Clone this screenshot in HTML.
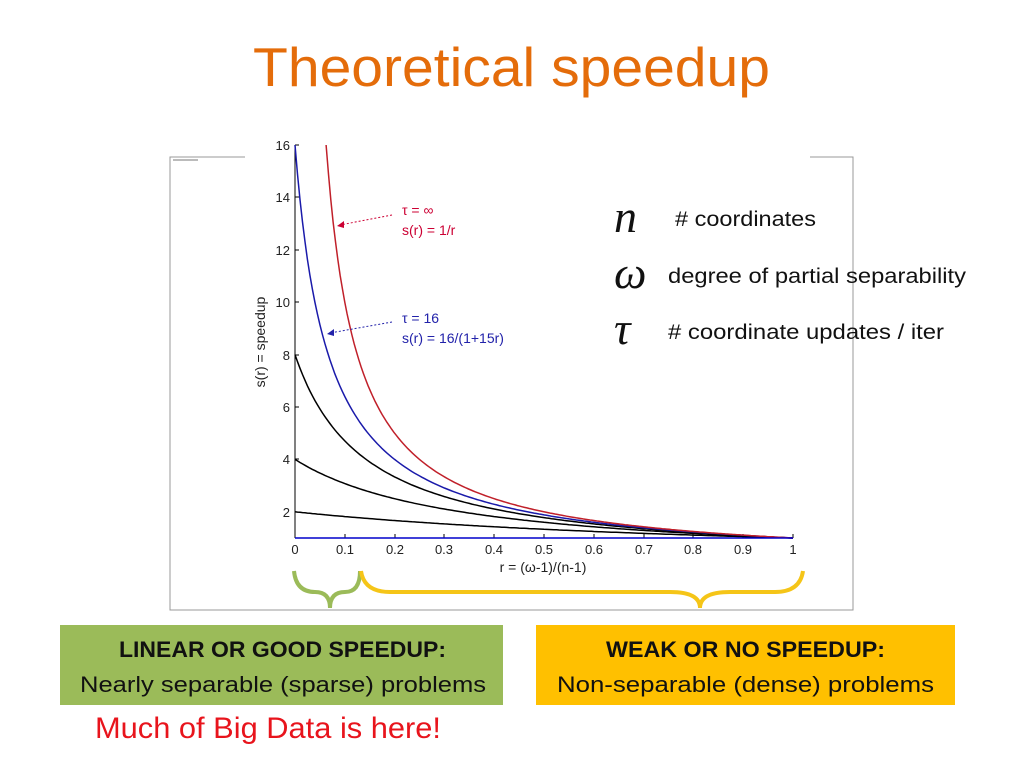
<!DOCTYPE html>
<html><head><meta charset="utf-8"><style>
body{margin:0;background:#fff;}
svg{display:block;}
</style></head><body>
<svg width="1024" height="768" viewBox="0 0 1024 768" xmlns="http://www.w3.org/2000/svg">
<text x="253" y="86" textLength="517" lengthAdjust="spacingAndGlyphs" font-family="Liberation Sans, sans-serif" font-size="55" fill="#E46C0A">Theoretical speedup</text>
<!-- frame -->
<path d="M245 157 H170 V610 H853 V157 H810" fill="none" stroke="#999" stroke-width="1"/>
<rect x="173" y="159" width="25" height="2" fill="#bbb"/>
<!-- axes -->
<g font-family="Liberation Sans, sans-serif" font-size="13" fill="#222">
<line x1="295" y1="145" x2="295" y2="538" stroke="#000" stroke-width="1"/>
<line x1="295" y1="538" x2="793" y2="538" stroke="#000" stroke-width="1"/>
<g text-anchor="end">
<text x="290" y="150">16</text><text x="290" y="202">14</text><text x="290" y="255">12</text><text x="290" y="307">10</text><text x="290" y="360">8</text><text x="290" y="412">6</text><text x="290" y="464">4</text><text x="290" y="517">2</text>
</g>
<path d="M295 145h4M295 197h4M295 250h4M295 302h4M295 355h4M295 407h4M295 459h4M295 512h4" stroke="#000"/>
<path d="M345 538v-4M395 538v-4M444 538v-4M494 538v-4M544 538v-4M594 538v-4M644 538v-4M693 538v-4M743 538v-4M793 538v-4" stroke="#000"/>
<g text-anchor="middle">
<text x="295" y="554">0</text><text x="345" y="554">0.1</text><text x="395" y="554">0.2</text><text x="444" y="554">0.3</text><text x="494" y="554">0.4</text><text x="544" y="554">0.5</text><text x="594" y="554">0.6</text><text x="644" y="554">0.7</text><text x="693" y="554">0.8</text><text x="743" y="554">0.9</text><text x="793" y="554">1</text>
<text x="543" y="572" font-size="14">r = (ω-1)/(n-1)</text>
<text transform="translate(265,342) rotate(-90)" font-size="14">s(r) = speedup</text>
</g>
</g>
<g fill="none" stroke-width="1.5" id="curves"></g>
<line x1="295" y1="538" x2="793" y2="538" stroke="#00c" stroke-width="1.5"/>
<!-- annotations -->
<g font-family="Liberation Sans, sans-serif" font-size="14">
<text x="402" y="215" fill="#c03">τ = ∞</text><text x="402" y="235" fill="#c03">s(r) = 1/r</text>
<text x="402" y="323" fill="#22a">τ = 16</text><text x="402" y="343" fill="#22a">s(r) = 16/(1+15r)</text>
</g>
<line x1="392" y1="215" x2="340" y2="225" stroke="#c03" stroke-dasharray="2,2"/>
<path d="M337 226l7-5v7z" fill="#c03"/>
<line x1="392" y1="322" x2="330" y2="333" stroke="#22a" stroke-dasharray="2,2"/>
<path d="M327 334l7-5v7z" fill="#22a"/>
<!-- braces -->
<path d="M294 571 Q296 592 315 592 Q330 592 330 608 Q330 592 345 592 Q360 592 360 571" fill="none" stroke="#9BBB59" stroke-width="4"/>
<path d="M361 571 Q364 592 390 592 L670 592 Q700 592 700 608 Q700 592 730 592 L775 592 Q800 592 803 571" fill="none" stroke="#F5C518" stroke-width="4"/>
<!-- right legend -->
<g font-family="Liberation Serif, serif" font-style="italic" font-size="46" fill="#111">
<text x="614" y="232">n</text><text x="614" y="288">ω</text><text x="614" y="344">τ</text>
</g>
<g font-family="Liberation Sans, sans-serif" font-size="21" fill="#111" lengthAdjust="spacingAndGlyphs">
<text x="675" y="226" textLength="141" lengthAdjust="spacingAndGlyphs"># coordinates</text>
<text x="668" y="283" textLength="298" lengthAdjust="spacingAndGlyphs">degree of partial separability</text>
<text x="668" y="339" textLength="276" lengthAdjust="spacingAndGlyphs"># coordinate updates / iter</text>
</g>
<!-- boxes -->
<rect x="60" y="625" width="443" height="80" fill="#9BBB59"/>
<rect x="536" y="625" width="419" height="80" fill="#FFC000"/>
<g font-family="Liberation Sans, sans-serif" font-size="22" fill="#111">
<text x="119" y="657" textLength="327" lengthAdjust="spacingAndGlyphs" font-weight="bold">LINEAR OR GOOD SPEEDUP:</text>
<text x="80" y="692" textLength="406" lengthAdjust="spacingAndGlyphs">Nearly separable (sparse) problems</text>
<text x="606" y="657" textLength="279" lengthAdjust="spacingAndGlyphs" font-weight="bold">WEAK OR NO SPEEDUP:</text>
<text x="557" y="692" textLength="377" lengthAdjust="spacingAndGlyphs">Non-separable (dense) problems</text>
</g>
<text x="95" y="738" textLength="346" lengthAdjust="spacingAndGlyphs" font-family="Liberation Sans, sans-serif" font-size="30" fill="#E8141C">Much of Big Data is here!</text>
<script>
(function(){
var g=document.getElementById('curves');
function X(r){return 295+r*498;} function Y(v){return 538-(v-1)*26.2;}
function add(f,r0,col){var d='';for(var i=0;i<=200;i++){var r=r0+(1-r0)*i/200;var v=f(r);d+=(i?'L':'M')+X(r).toFixed(1)+' '+Y(v).toFixed(1);}
var p=document.createElementNS('http://www.w3.org/2000/svg','path');p.setAttribute('d',d);p.setAttribute('stroke',col);g.appendChild(p);}
add(function(r){return 2/(1+r);},0,'#000');
add(function(r){return 4/(1+3*r);},0,'#000');
add(function(r){return 8/(1+7*r);},0,'#000');
add(function(r){return 16/(1+15*r);},0,'#1a1aaa');
add(function(r){return 1/r;},1/16,'#c0202a');
})();
</script>
</svg>
</body></html>
